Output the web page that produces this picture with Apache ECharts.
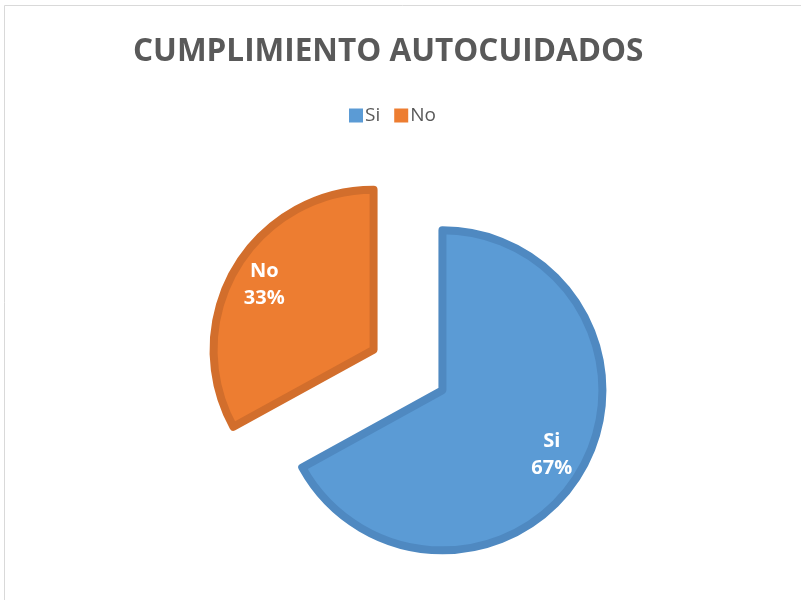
<!DOCTYPE html>
<html>
<head>
<meta charset="utf-8">
<script src="https://cdn.jsdelivr.net/npm/echarts@6/dist/echarts.min.js"></script>
<style>
  html, body { margin: 0; padding: 0; background: #fff; }
  #chart { width: 801px; height: 600px; }
</style>
</head>
<body>
<div id="chart"></div>
<script>
const categories = ["Si", "No"];
const percents = [67, 33];
const fillColors = ["#5b9bd5", "#ed7d31"];
const edgeColors = ["#4f89c1", "#d26e2c"];

const pieData = categories.map((name, i) => ({
  name: name,
  value: percents[i],
  selected: true,
  itemStyle: { color: fillColors[i], borderColor: edgeColors[i] },
}));

const chart = echarts.init(document.getElementById("chart"));
chart.setOption({
  animation: false,
  title: {
    text: "CUMPLIMIENTO AUTOCUIDADOS",
    left: 128,
    top: 31,
    textStyle: {
      fontFamily: "Open Sans",
      fontWeight: "bold",
      fontSize: 31.5,
      color: "#595959",
    },
  },
  legend: {
    top: 101,
    left: 344,
    itemWidth: 14,
    itemHeight: 14,
    itemGap: 14,
    icon: "rect",
    itemStyle: { borderWidth: 0 },
    data: categories,
    textStyle: { fontFamily: "Open Sans", fontSize: 19, color: "#595959", padding: [0, 0, 0, -3] },
  },
  graphic: [
    { type: "line", shape: { x1: 4.5, y1: 5.5, x2: 801, y2: 5.5 }, style: { stroke: "#d9d9d9", lineWidth: 1 } },
    { type: "line", shape: { x1: 4.5, y1: 5.5, x2: 4.5, y2: 600 }, style: { stroke: "#d9d9d9", lineWidth: 1 } },
  ],
  series: [
    {
      type: "pie",
      center: [408, 370],
      radius: [0, 160],
      startAngle: 90,
      clockwise: true,
      selectedMode: "multiple",
      selectedOffset: 40,
      silent: true,
      itemStyle: { borderWidth: 8 },
      label: { show: false },
      labelLine: { show: false },
      emphasis: { disabled: true },
      data: pieData,
    },
    {
      type: "pie",
      center: [408, 370],
      radius: [88, 160],
      startAngle: 90,
      clockwise: true,
      selectedMode: "multiple",
      selectedOffset: 40,
      silent: true,
      itemStyle: { color: "transparent", borderWidth: 0 },
      label: {
        show: true,
        position: "inside",
        formatter: "{b}\n{d}%",
        fontFamily: "Open Sans",
        fontWeight: "bold",
        fontSize: 20,
        lineHeight: 27,
        color: "#ffffff",
      },
      labelLine: { show: false },
      emphasis: { disabled: true },
      data: categories.map((name, i) => ({
        name: name,
        value: percents[i],
        selected: true,
        itemStyle: { color: "transparent" },
      })),
    },
  ],
});
</script>
</body>
</html>
